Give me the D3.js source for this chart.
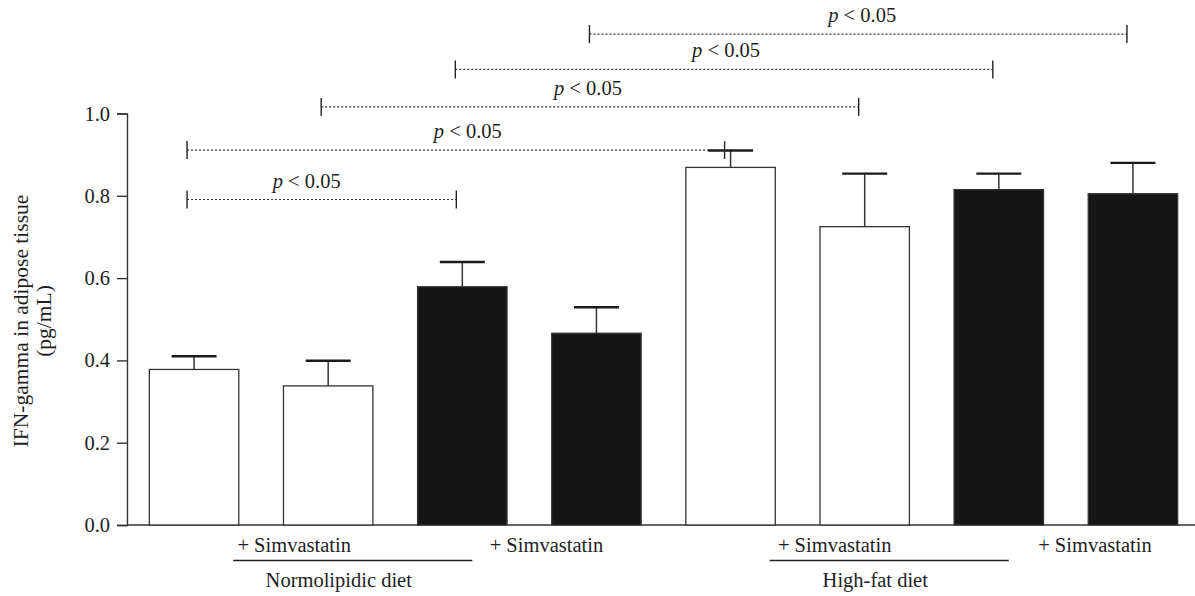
<!DOCTYPE html>
<html>
<head>
<meta charset="utf-8">
<script src="https://cdn.jsdelivr.net/npm/d3@7"></script>
<style>
  html, body { margin: 0; padding: 0; background: #fff; }
  svg text { font-family: 'Liberation Serif', 'Times New Roman', serif; fill: #1e1e1e; }
</style>
</head>
<body>
<svg id="chart" width="1195" height="596"></svg>
<script>
// bars, left to right
const categories = ['ND', 'ND + Simvastatin', 'ND (2)', 'ND (2) + Simvastatin',
                    'HFD', 'HFD + Simvastatin', 'HFD (2)', 'HFD (2) + Simvastatin'];
const means = [0.378, 0.338, 0.579, 0.466, 0.869, 0.725, 0.815, 0.805];
const errors = [0.032, 0.061, 0.060, 0.063, 0.041, 0.129, 0.039, 0.075];
const filled = [false, false, true, true, false, false, true, true];
const subLabels = ['', '+ Simvastatin', '', '+ Simvastatin', '', '+ Simvastatin', '', '+ Simvastatin'];

const yTicks = [0, 0.2, 0.4, 0.6, 0.8, 1.0];

// significance brackets: [from bar, to bar], level on the y scale
const bracketPairs = [[0, 2], [0, 4], [1, 5], [2, 6], [3, 7]];
const bracketLevels = [0.791, 0.911, 1.016, 1.107, 1.193];
const bracketText = 'p < 0.05';

// diet groups, spanning bars
const groupNames = ['Normolipidic diet', 'High-fat diet'];
const groupSpans = [[1, 2], [5, 6]];

const yTitle = ['IFN-gamma in adipose tissue', '(pg/mL)'];

// small hand nudges (px) so labels sit where the original put them
const subLabelNudge = [0, -34, 0, -50, 0, -30, 0, -38];
const bracketTextNudge = [-15, 12, -2, 2, 4];

const svg = d3.select('#chart');
const ink = '#333';

const x = d3.scaleBand().domain(categories).range([127, 1200])
  .paddingInner(1 / 3).paddingOuter(1 / 6);
const y = d3.scaleLinear().domain([0, 1]).range([525, 113.5]);
const cx = i => x(categories[i]) + x.bandwidth() / 2;

// y axis
const yAxis = svg.append('g').attr('transform', 'translate(127,0)')
  .call(d3.axisLeft(y).tickValues(yTicks).tickFormat(d3.format('.1f')).tickSize(10).tickPadding(7));
yAxis.select('.domain').attr('stroke', ink).attr('stroke-width', 1.4);
yAxis.selectAll('.tick line').attr('stroke', ink).attr('stroke-width', 1.4);
yAxis.selectAll('.tick text').style('font-size', '20.5px').attr('fill', '#1e1e1e');

// x baseline to the right edge
svg.append('line')
  .attr('x1', 127).attr('x2', 1195)
  .attr('y1', y(0)).attr('y2', y(0))
  .attr('stroke', ink).attr('stroke-width', 1.4);

// bars
svg.append('g').selectAll('rect')
  .data(means)
  .join('rect')
  .attr('x', (d, i) => x(categories[i]))
  .attr('y', d => y(d))
  .attr('width', x.bandwidth())
  .attr('height', d => y(0) - y(d))
  .attr('fill', (d, i) => filled[i] ? '#161616' : '#fff')
  .attr('stroke', ink)
  .attr('stroke-width', 1.3);

// error bars (upper only)
const eb = svg.append('g').selectAll('g')
  .data(means)
  .join('g');
eb.append('line')
  .attr('x1', (d, i) => cx(i)).attr('x2', (d, i) => cx(i))
  .attr('y1', d => y(d)).attr('y2', (d, i) => y(d + errors[i]))
  .attr('stroke', ink).attr('stroke-width', 1.5);
eb.append('line')
  .attr('x1', (d, i) => cx(i) - 22.5).attr('x2', (d, i) => cx(i) + 22.5)
  .attr('y1', (d, i) => y(d + errors[i])).attr('y2', (d, i) => y(d + errors[i]))
  .attr('stroke', '#1a1a1a').attr('stroke-width', 2.4);

// significance brackets
const br = svg.append('g').selectAll('g')
  .data(bracketPairs)
  .join('g');
const bx1 = p => cx(p[0]) - 7;
const bx2 = p => cx(p[1]) - 6;
br.append('line')
  .attr('x1', bx1).attr('x2', bx2)
  .attr('y1', (p, i) => y(bracketLevels[i])).attr('y2', (p, i) => y(bracketLevels[i]))
  .attr('stroke', ink).attr('stroke-width', 1.2).attr('stroke-dasharray', '2,2');
br.selectAll('line.end')
  .data((p, i) => [bx1(p), bx2(p)].map(v => ({ v, lv: bracketLevels[i] })))
  .join('line')
  .attr('class', 'end')
  .attr('x1', d => d.v).attr('x2', d => d.v)
  .attr('y1', d => y(d.lv) - 9).attr('y2', d => y(d.lv) + 9)
  .attr('stroke', '#222').attr('stroke-width', 1.4);
const bt = br.append('text')
  .attr('x', (p, i) => (bx1(p) + bx2(p)) / 2 + bracketTextNudge[i])
  .attr('y', (p, i) => y(bracketLevels[i]) - 12)
  .attr('text-anchor', 'middle')
  .style('font-size', '20.5px');
bt.append('tspan').style('font-style', 'italic').text(bracketText.split(' ')[0]);
bt.append('tspan').text(' ' + bracketText.split(' ').slice(1).join(' '));

// "+ Simvastatin" labels
svg.append('g').selectAll('text')
  .data(subLabels)
  .join('text')
  .attr('x', (d, i) => cx(i) + subLabelNudge[i])
  .attr('y', 552)
  .attr('text-anchor', 'middle')
  .style('font-size', '20.5px')
  .text(d => d);

// group lines and names
const grp = svg.append('g').selectAll('g')
  .data(groupSpans)
  .join('g');
grp.append('line')
  .attr('x1', s => cx(s[0]) - 95).attr('x2', s => cx(s[1]) + 10)
  .attr('y1', 560.5).attr('y2', 560.5)
  .attr('stroke', '#222').attr('stroke-width', 1.4);
grp.append('text')
  .attr('x', s => (cx(s[0]) - 95 + cx(s[1]) + 10) / 2 - 14)
  .attr('y', 587)
  .attr('text-anchor', 'middle')
  .style('font-size', '20.5px')
  .text((s, i) => groupNames[i]);

// y axis title
svg.append('text')
  .attr('transform', 'translate(28,321) rotate(-90)')
  .attr('text-anchor', 'middle')
  .style('font-size', '21.5px')
  .selectAll('tspan')
  .data(yTitle)
  .join('tspan')
  .attr('x', 0)
  .attr('dy', (d, i) => i ? 22.5 : 0)
  .text(d => d);
</script>
</body>
</html>
